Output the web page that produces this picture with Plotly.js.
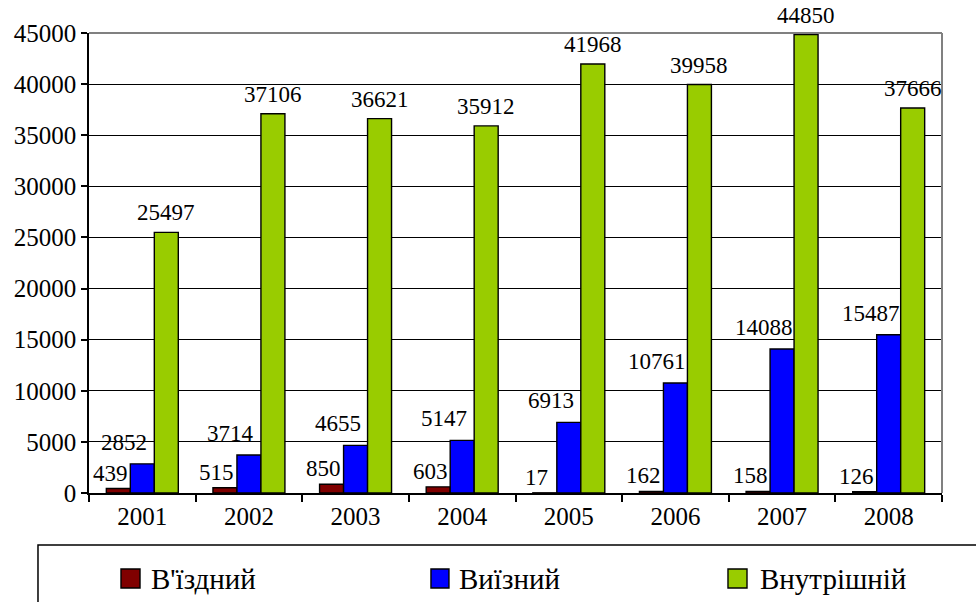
<!DOCTYPE html>
<html>
<head>
<meta charset="utf-8">
<script src="https://cdn.plot.ly/plotly-3.0.1.min.js"></script>
<style>
html,body{margin:0;padding:0;background:#fff;}
#chart{width:976px;height:602px;}
#chart svg text{font-family:'Liberation Serif','Times New Roman','DejaVu Serif',serif !important;}
</style>
</head>
<body>
<div id="chart"></div>
<script>
// ---- data ----
const years = ['2001','2002','2003','2004','2005','2006','2007','2008'];
const seriesNames = ["В'їздний", 'Виїзний', 'Внутрішній'];
const inbound  = [439, 515, 850, 603, 17, 162, 158, 126];
const outbound = [2852, 3714, 4655, 5147, 6913, 10761, 14088, 15487];
const domestic = [25497, 37106, 36621, 35912, 41968, 39958, 44850, 37666];
const yTicks = [0, 5000, 10000, 15000, 20000, 25000, 30000, 35000, 40000, 45000];

// ---- styles ----
const colors = ['#800000', '#0000FF', '#99CC00'];
const FONT = 'Liberation Serif';
const seriesValues = [inbound, outbound, domestic];
const labelXShift = [-32, -18, 24];
const labelYShift = [1, 7, 5];

const traces = seriesValues.map((vals, i) => ({
  type: 'bar',
  name: seriesNames[i],
  x: years,
  y: vals,
  marker: {color: colors[i], line: {color: '#000', width: 1.4}},
  showlegend: false
}));

const annotations = [];
seriesValues.forEach((vals, i) => {
  vals.forEach((v, j) => {
    annotations.push({
      x: j, y: v, xref: 'x', yref: 'y',
      text: String(v), showarrow: false,
      xanchor: 'center', yanchor: 'bottom',
      xshift: labelXShift[i], yshift: labelYShift[i],
      font: {family: FONT, size: 23, color: '#000'}
    });
  });
});

// custom legend (paper coordinates)
const legendMarkerX = [[0.0375, 0.0598], [0.4009, 0.4220], [0.7491, 0.7714]];
const legendTextX = [0.0700, 0.4310, 0.7840];
const shapes = [
  {type: 'line', xref: 'paper', yref: 'paper', x0: 0, x1: 1, y0: 1, y1: 1, line: {color: '#808080', width: 2}, layer: 'above'},
  {type: 'line', xref: 'paper', yref: 'paper', x0: 1, x1: 1, y0: 0, y1: 1, line: {color: '#808080', width: 2}, layer: 'above'},
  {type: 'rect', xref: 'paper', yref: 'paper', x0: -0.0598, x1: 1.06, y0: -0.26, y1: -0.113, line: {color: '#000', width: 1.5}, fillcolor: 'rgba(0,0,0,0)'}
];
seriesNames.forEach((n, i) => {
  shapes.push({type: 'rect', xref: 'paper', yref: 'paper',
    x0: legendMarkerX[i][0], x1: legendMarkerX[i][1], y0: -0.2065, y1: -0.1652,
    fillcolor: colors[i], line: {color: '#000', width: 1.4}});
  annotations.push({xref: 'paper', yref: 'paper', x: legendTextX[i], y: -0.188,
    xanchor: 'left', yanchor: 'middle', text: n, showarrow: false,
    font: {family: FONT, size: 29, color: '#000'}});
});

const layout = {
  width: 976, height: 602,
  margin: {l: 89, r: 34, t: 33, b: 109, pad: 0},
  paper_bgcolor: '#fff', plot_bgcolor: '#fff',
  font: {family: FONT, size: 22, color: '#000'},
  barmode: 'group', bargap: 0.325, bargroupgap: 0,
  showlegend: false,
  xaxis: {
    type: 'category', autorange: false, range: [-0.5, years.length - 0.5],
    tickson: 'boundaries',
    ticks: 'outside', ticklen: 7, tickcolor: '#000', tickwidth: 1.5,
    showline: true, linecolor: '#000', linewidth: 1.5,
    showgrid: false, zeroline: false,
    tickangle: 0,
    tickfont: {family: FONT, size: 25, color: '#000'}
  },
  yaxis: {
    autorange: false, range: [0, 45000],
    tickmode: 'array', tickvals: yTicks, ticktext: yTicks.map(String),
    ticks: 'outside', ticklen: 6, tickcolor: '#000', tickwidth: 1.5,
    showline: true, linecolor: '#000', linewidth: 1.5,
    showgrid: true, gridcolor: '#000', gridwidth: 1,
    zeroline: false,
    tickfont: {family: FONT, size: 25, color: '#000'}
  },
  annotations: annotations,
  shapes: shapes
};

Plotly.newPlot('chart', traces, layout, {displayModeBar: false});
</script>
</body>
</html>
